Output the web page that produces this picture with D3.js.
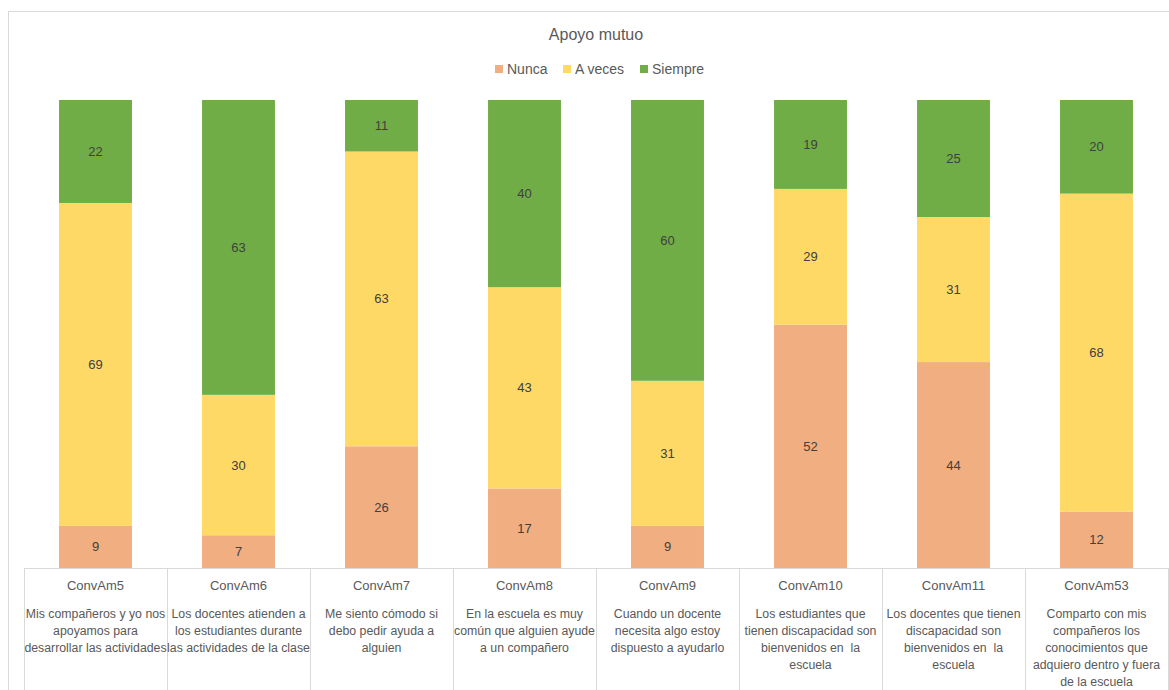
<!DOCTYPE html>
<html>
<head>
<meta charset="utf-8">
<script src="https://cdn.jsdelivr.net/npm/d3@7/dist/d3.min.js"></script>
<style>
  html, body { margin: 0; padding: 0; background: #fff; }
  svg { display: block; font-family: "Liberation Sans", Arial, sans-serif; }
  .desc { white-space: pre; }
</style>
</head>
<body>
<svg id="chart" width="1169" height="690"></svg>
<script>
// Survey items (codes) and the wrapped wording shown under each one
const categories = ["ConvAm5", "ConvAm6", "ConvAm7", "ConvAm8", "ConvAm9", "ConvAm10", "ConvAm11", "ConvAm53"];
const descriptions = [
  ["Mis compañeros y yo nos", "apoyamos para", "desarrollar las actividades"],
  ["Los docentes atienden a", "los estudiantes durante", "las actividades de la clase"],
  ["Me siento cómodo si", "debo pedir ayuda a", "alguien"],
  ["En la escuela es muy", "común que alguien ayude", "a un compañero"],
  ["Cuando un docente", "necesita algo estoy", "dispuesto a ayudarlo"],
  ["Los estudiantes que", "tienen discapacidad son", "bienvenidos en  la", "escuela"],
  ["Los docentes que tienen", "discapacidad son", "bienvenidos en  la", "escuela"],
  ["Comparto con mis", "compañeros los", "conocimientos que", "adquiero dentro y fuera", "de la escuela"]
];

// Response shares (%) per item
const seriesNames = ["Nunca", "A veces", "Siempre"];
const nunca   = [9, 7, 26, 17, 9, 52, 44, 12];
const aVeces  = [69, 30, 63, 43, 31, 29, 31, 68];
const siempre = [22, 63, 11, 40, 60, 19, 25, 20];

const colors = ["#F1AE80", "#FFD966", "#70AD47"];

const rows = categories.map((c, i) => ({
  cat: c, "Nunca": nunca[i], "A veces": aVeces[i], "Siempre": siempre[i]
}));

const svg = d3.select("#chart");
const W = 1169, H = 690;
const plot = { left: 24, right: 1168, top: 100, bottom: 568 };

// Outer chart frame
svg.append("rect")
  .attr("x", 8.5).attr("y", 11.5)
  .attr("width", W + 10).attr("height", H + 10)
  .attr("fill", "#fff").attr("stroke", "#d9d9d9").attr("stroke-width", 1);

const x = d3.scaleBand().domain(categories)
  .range([plot.left, plot.right]).paddingInner(0.49).paddingOuter(0.245);
const y = d3.scaleLinear().domain([0, 100]).range([plot.bottom, plot.top]);

const stack = d3.stack().keys(seriesNames)(rows);

const g = svg.append("g");
const layer = g.selectAll("g.layer").data(stack).join("g")
  .attr("class", "layer")
  .attr("fill", (d, i) => colors[i]);

layer.selectAll("rect").data(d => d).join("rect")
  .attr("x", d => x(d.data.cat))
  .attr("width", x.bandwidth())
  .attr("y", d => y(d[1]))
  .attr("height", d => y(d[0]) - y(d[1]));

// Values inside the segments
layer.selectAll("text").data(d => d.map(v => ({ v, key: d.key }))).join("text")
  .attr("x", d => x(d.v.data.cat) + x.bandwidth() / 2)
  .attr("y", d => (y(d.v[0]) + y(d.v[1])) / 2)
  .attr("dy", "0.35em")
  .attr("text-anchor", "middle")
  .attr("fill", "#404040")
  .attr("font-size", 13)
  .text(d => d.v.data[d.key]);

// Category axis drawn as a table of cells
const step = x.step();
const edges = categories.map(c => x(c) - x.paddingInner() * step / 2);
edges.push(plot.right);
const axis = svg.append("g").attr("stroke", "#d9d9d9").attr("stroke-width", 1);
axis.append("line")
  .attr("x1", plot.left).attr("x2", plot.right)
  .attr("y1", plot.bottom + 0.5).attr("y2", plot.bottom + 0.5);
axis.selectAll("line.v").data(edges).join("line")
  .attr("class", "v")
  .attr("x1", d => Math.round(d) + 0.5).attr("x2", d => Math.round(d) + 0.5)
  .attr("y1", plot.bottom).attr("y2", H + 5);

const labels = svg.append("g").attr("fill", "#595959")
  .attr("text-anchor", "middle");
categories.forEach((c, i) => {
  const cx = x(c) + x.bandwidth() / 2;
  labels.append("text").attr("x", cx).attr("y", 590).attr("font-size", 13).text(c);
  const t = labels.append("text").attr("class", "desc")
    .attr("x", cx).attr("y", 618).attr("font-size", 12.3);
  descriptions[i].forEach((line, j) => {
    t.append("tspan").attr("x", cx).attr("dy", j === 0 ? 0 : 17).text(line);
  });
});

// Title
svg.append("text")
  .attr("x", 596).attr("y", 40)
  .attr("text-anchor", "middle")
  .attr("fill", "#595959").attr("font-size", 16)
  .text("Apoyo mutuo");

// Legend
const legendItems = [
  { name: "Nunca", x: 495 },
  { name: "A veces", x: 563 },
  { name: "Siempre", x: 640 }
];
const lg = svg.append("g");
legendItems.forEach((d, i) => {
  lg.append("rect").attr("x", d.x).attr("y", 65).attr("width", 8).attr("height", 8)
    .attr("fill", colors[i]);
  lg.append("text").attr("x", d.x + 12).attr("y", 74)
    .attr("fill", "#595959").attr("font-size", 14).text(d.name);
});
</script>
</body>
</html>
